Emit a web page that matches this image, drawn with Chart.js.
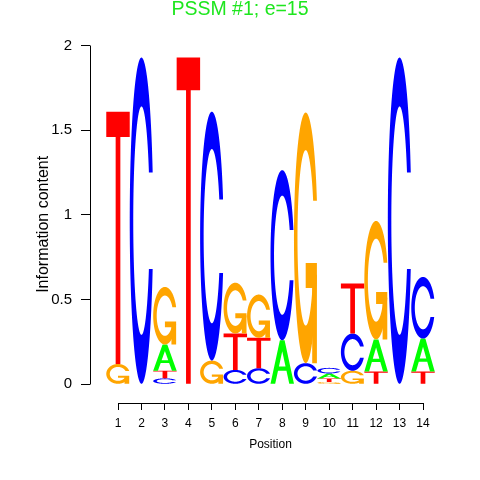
<!DOCTYPE html>
<html>
<head>
<meta charset="utf-8">
<script src="https://cdn.jsdelivr.net/npm/chart.js@4.4.1/dist/chart.umd.min.js"></script>
<style>
  html, body { margin: 0; padding: 0; background: #ffffff; }
  #logo { display: block; }
</style>
</head>
<body>
<canvas id="logo" width="480" height="480"></canvas>
<script>
// Posiciones del motivo y contenido de información por letra (bits)
const positions = [1, 2, 3, 4, 5, 6, 7, 8, 9, 10, 11, 12, 13, 14];
const heightsA = [0, 0, 0.155, 0, 0, 0, 0, 0.26, 0, 0.03, 0, 0.19, 0, 0.195];
const heightsC = [0, 1.93, 0.035, 0, 1.47, 0.085, 0.095, 1.005, 0.125, 0.033, 0.22, 0, 1.93, 0.364];
const heightsG = [0.12, 0, 0.34, 0, 0.14, 0.30, 0.255, 0, 1.48, 0.014, 0.08, 0.70, 0, 0];
const heightsT = [1.49, 0, 0.045, 1.93, 0, 0.215, 0.18, 0, 0, 0.02, 0.295, 0.075, 0, 0.075];

// Marcas de los ejes
const xTickLabels = ['1', '2', '3', '4', '5', '6', '7', '8', '9', '10', '11', '12', '13', '14'];
const yTicks = [0, 0.5, 1, 1.5, 2];
const yTickLabels = ['0', '0.5', '1', '1.5', '2'];

const letterColors = { A: '#00ff00', C: '#0000ff', G: '#ffa500', T: '#ff0000' };
const FONT = '"Liberation Sans", Arial, Helvetica, sans-serif';

/**
 * Formas de las letras en coordenadas unitarias (x a la derecha, y hacia arriba),
 * igual que los polígonos de seqLogo
 */
function seq(a, b, n) {
    const out = [];
    for (let i = 0; i < n; i++) out.push(a + (b - a) * i / (n - 1));
    return out;
}

function shapeC() {
    const a1 = seq(0.3 + Math.PI / 2, Math.PI, 100);
    const a2 = seq(Math.PI, 1.5 * Math.PI, 100);
    const xl1 = a1.map(a => 0.5 + 0.5 * Math.sin(a));
    const yl1 = a1.map(a => 0.5 + 0.5 * Math.cos(a));
    const xl = xl1.concat(a2.map(a => 0.5 + 0.5 * Math.sin(a)));
    const yl = yl1.concat(a2.map(a => 0.5 + 0.5 * Math.cos(a)));
    let x = xl.concat(xl.slice().reverse());
    let y = yl.concat(yl.slice().reverse().map(v => 1 - v));

    const ymax = Math.max(...yl1);
    let xi1 = a1.map(a => 0.5 + 0.35 * Math.sin(a));
    let yi1 = a1.map(a => 0.5 + 0.35 * Math.cos(a));
    const keep = yi1.map(v => v <= ymax);
    xi1 = xi1.filter((v, i) => keep[i]);
    yi1 = yi1.filter((v, i) => keep[i]);
    yi1[0] = ymax;
    const xi = xi1.concat(a2.map(a => 0.5 + 0.35 * Math.sin(a)));
    const yi = yi1.concat(a2.map(a => 0.5 + 0.35 * Math.cos(a)));
    const x1 = xi.concat(xi.slice().reverse());
    const y1 = yi.concat(yi.slice().reverse().map(v => 1 - v));
    x = x.concat(x1.slice().reverse());
    y = y.concat(y1.slice().reverse());
    return { parts: [{ x, y }], r1: Math.max(...xl1) };
}

function letterShape(letter) {
    if (letter === 'T') {
        return [{ x: [0, 1, 1, 0.6, 0.6, 0.4, 0.4, 0], y: [1, 1, 0.9, 0.9, 0, 0, 0.9, 0.9] }];
    }
    if (letter === 'A') {
        return [
            { x: [0, 0.4, 0.6, 1, 0.8, 0.68, 0.32, 0.2, 0], y: [0, 1, 1, 0, 0, 0.3, 0.3, 0, 0] },
            { x: [0.36, 0.5, 0.64, 0.36], y: [0.4, 0.75, 0.4, 0.4], hole: true }
        ];
    }
    const c = shapeC();
    if (letter === 'C') return c.parts;
    // G: la C con la barra añadida
    const r1 = c.r1;
    const h1 = 0.4;
    return c.parts.concat([{
        x: [r1, 0.5, 0.5, r1 - 0.2, r1 - 0.2, r1, r1],
        y: [h1, h1, h1 - 0.1, h1 - 0.1, 0, 0, h1]
    }]);
}

function drawLetter(ctx, letter, left, top, w, h) {
    const bottom = top + h;
    letterShape(letter).forEach(part => {
        ctx.beginPath();
        part.x.forEach((px, i) => {
            const cx = left + px * w;
            const cy = bottom - part.y[i] * h;
            if (i === 0) ctx.moveTo(cx, cy); else ctx.lineTo(cx, cy);
        });
        ctx.closePath();
        ctx.fillStyle = part.hole ? '#ffffff' : letterColors[letter];
        ctx.fill();
    });
}

// Ordenar las letras de cada columna de menor a mayor altura
const letters = ['A', 'C', 'G', 'T'];
const heightsByLetter = { A: heightsA, C: heightsC, G: heightsG, T: heightsT };
const stacks = positions.map((p, i) =>
    letters.map(l => ({ l, h: heightsByLetter[l][i] })).sort((a, b) => a.h - b.h)
);

const datasets = [0, 1, 2, 3].map(k => ({
    data: positions.map((p, i) => ({ x: p, y: stacks[i][k].h })),
    letters: positions.map((p, i) => stacks[i][k].l),
    backgroundColor: 'rgba(0,0,0,0)',
    borderWidth: 0,
    barPercentage: 1,
    categoryPercentage: 1,
    xAxisID: 'x',
    yAxisID: 'y'
}));

const alignPixel = v => Math.round(v - 0.5) + 0.5;

const logoPlugin = {
    id: 'logoLetters',
    afterDatasetsDraw(chart) {
        const ctx = chart.ctx;
        ctx.save();
        chart.data.datasets.forEach((ds, k) => {
            chart.getDatasetMeta(k).data.forEach((bar, i) => {
                const { x, y, base, width } = bar.getProps(['x', 'y', 'base', 'width'], true);
                const h = base - y;
                if (h <= 0.01) return;
                drawLetter(ctx, ds.letters[i], x - width / 2, y, width, h);
            });
        });
        ctx.restore();
    },
    afterDraw(chart) {
        // Líneas de los ejes al estilo R, solo entre la primera y la última marca
        const { ctx, chartArea, scales } = chart;
        ctx.save();
        ctx.strokeStyle = '#000';
        ctx.lineWidth = 1;
        ctx.beginPath();
        const ax = alignPixel(chartArea.left);
        ctx.moveTo(ax, alignPixel(scales.y.getPixelForValue(yTicks[0])));
        ctx.lineTo(ax, alignPixel(scales.y.getPixelForValue(yTicks[yTicks.length - 1])));
        const ay = alignPixel(chartArea.bottom);
        ctx.moveTo(alignPixel(scales.x.getPixelForValue(positions[0])), ay);
        ctx.lineTo(alignPixel(scales.x.getPixelForValue(positions[positions.length - 1])), ay);
        ctx.stroke();
        ctx.restore();
    }
};

new Chart(document.getElementById('logo'), {
    type: 'bar',
    data: { datasets },
    plugins: [logoPlugin],
    options: {
        responsive: false,
        animation: false,
        devicePixelRatio: 1,
        layout: { padding: 0 },
        plugins: {
            legend: { display: false },
            tooltip: { enabled: false },
            title: {
                display: true,
                text: 'PSSM #1; e=15',
                color: 'rgb(30,230,30)',
                font: { family: FONT, size: 19.5, weight: 'normal', lineHeight: 0.9 },
                padding: { top: 0.5, bottom: 27.65 }
            }
        },
        scales: {
            x: {
                type: 'linear',
                stacked: true,
                offset: false,
                min: -0.1935,
                max: 15.193,
                afterBuildTicks: s => { s.ticks = positions.map(v => ({ value: v })); },
                afterFit: s => { s.height = 77; },
                border: { display: false },
                grid: { display: true, offset: false, drawOnChartArea: false, drawTicks: true, tickLength: 7, color: '#000' },
                ticks: {
                    autoSkip: false,
                    maxRotation: 0,
                    padding: 6,
                    color: '#000',
                    font: { family: FONT, size: 12 },
                    callback: (v, i) => xTickLabels[i]
                },
                title: {
                    display: true,
                    text: 'Position',
                    color: '#000',
                    font: { family: FONT, size: 12 },
                    padding: { top: 0, bottom: 28 }
                }
            },
            y: {
                type: 'linear',
                position: 'left',
                stacked: true,
                min: -0.1105,
                max: 2,
                afterBuildTicks: s => { s.ticks = yTicks.map(v => ({ value: v })); },
                afterFit: s => { s.width = 90; },
                border: { display: false },
                grid: { display: true, drawOnChartArea: false, drawTicks: true, tickLength: 9, color: '#000' },
                ticks: {
                    padding: 9,
                    color: '#000',
                    font: { family: FONT, size: 15 },
                    callback: (v, i) => yTickLabels[i]
                },
                title: {
                    display: true,
                    text: 'Information content',
                    color: '#000',
                    font: { family: FONT, size: 16 },
                    padding: { top: 34, bottom: 0 }
                }
            },
            yRight: {
                type: 'linear',
                position: 'right',
                display: true,
                afterFit: s => { s.width = 29; },
                border: { display: false },
                grid: { display: false },
                ticks: { display: false }
            }
        }
    }
});
</script>
</body>
</html>
